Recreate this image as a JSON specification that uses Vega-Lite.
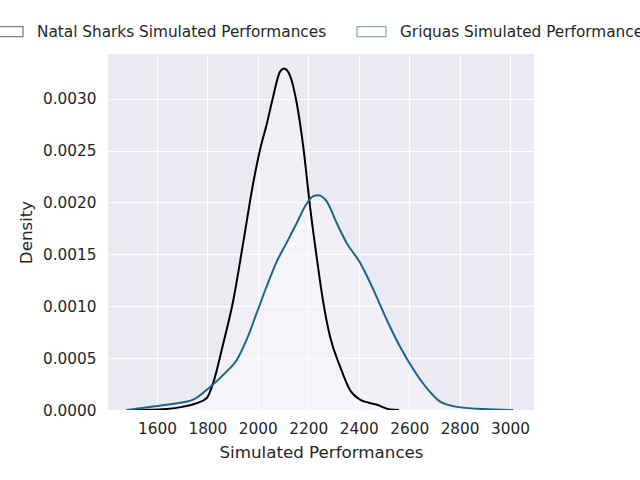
{
  "$schema": "https://vega.github.io/schema/vega-lite/v6.json",
  "width": 426,
  "height": 356,
  "autosize": {"type": "none"},
  "padding": {"left": 108, "top": 54, "right": 106, "bottom": 70},
  "background": "white",
  "config": {
    "view": {"fill": "#EAEAF2", "stroke": null},
    "font": "DejaVu Sans",
    "axis": {
      "gridColor": "white",
      "gridWidth": 1.2,
      "domain": false,
      "ticks": false,
      "labelColor": "#262626",
      "titleColor": "#262626",
      "labelFontSize": 15.3,
      "titleFontSize": 16.7,
      "titleFontWeight": "normal",
      "labelFont": "DejaVu Sans",
      "titleFont": "DejaVu Sans"
    }
  },
  "data": {
    "values": [
      {"series": "Natal Sharks Simulated Performances", "x": 1480, "y": 0},
      {"series": "Natal Sharks Simulated Performances", "x": 1560, "y": 0.000002},
      {"series": "Natal Sharks Simulated Performances", "x": 1638, "y": 0.00001},
      {"series": "Natal Sharks Simulated Performances", "x": 1700, "y": 0.00003},
      {"series": "Natal Sharks Simulated Performances", "x": 1757, "y": 0.000065},
      {"series": "Natal Sharks Simulated Performances", "x": 1797, "y": 0.000113},
      {"series": "Natal Sharks Simulated Performances", "x": 1823, "y": 0.00026},
      {"series": "Natal Sharks Simulated Performances", "x": 1863, "y": 0.00064},
      {"series": "Natal Sharks Simulated Performances", "x": 1903, "y": 0.00106},
      {"series": "Natal Sharks Simulated Performances", "x": 1942, "y": 0.00161},
      {"series": "Natal Sharks Simulated Performances", "x": 1982, "y": 0.00219},
      {"series": "Natal Sharks Simulated Performances", "x": 2009, "y": 0.00251},
      {"series": "Natal Sharks Simulated Performances", "x": 2035, "y": 0.00275},
      {"series": "Natal Sharks Simulated Performances", "x": 2061, "y": 0.00302},
      {"series": "Natal Sharks Simulated Performances", "x": 2088, "y": 0.00326},
      {"series": "Natal Sharks Simulated Performances", "x": 2104, "y": 0.00329},
      {"series": "Natal Sharks Simulated Performances", "x": 2128, "y": 0.00322},
      {"series": "Natal Sharks Simulated Performances", "x": 2154, "y": 0.00296},
      {"series": "Natal Sharks Simulated Performances", "x": 2180, "y": 0.00254},
      {"series": "Natal Sharks Simulated Performances", "x": 2207, "y": 0.00196},
      {"series": "Natal Sharks Simulated Performances", "x": 2233, "y": 0.00148},
      {"series": "Natal Sharks Simulated Performances", "x": 2260, "y": 0.00103},
      {"series": "Natal Sharks Simulated Performances", "x": 2286, "y": 0.00071},
      {"series": "Natal Sharks Simulated Performances", "x": 2326, "y": 0.00042},
      {"series": "Natal Sharks Simulated Performances", "x": 2366, "y": 0.00019},
      {"series": "Natal Sharks Simulated Performances", "x": 2405, "y": 0.0001},
      {"series": "Natal Sharks Simulated Performances", "x": 2440, "y": 0.00007},
      {"series": "Natal Sharks Simulated Performances", "x": 2472, "y": 0.00005},
      {"series": "Natal Sharks Simulated Performances", "x": 2524, "y": 0.000005},
      {"series": "Natal Sharks Simulated Performances", "x": 2560, "y": 0},
      {"series": "Griquas Simulated Performances", "x": 1480, "y": 0},
      {"series": "Griquas Simulated Performances", "x": 1572, "y": 0.00003},
      {"series": "Griquas Simulated Performances", "x": 1665, "y": 0.00006},
      {"series": "Griquas Simulated Performances", "x": 1744, "y": 0.0001},
      {"series": "Griquas Simulated Performances", "x": 1810, "y": 0.00022},
      {"series": "Griquas Simulated Performances", "x": 1876, "y": 0.00037},
      {"series": "Griquas Simulated Performances", "x": 1916, "y": 0.00048},
      {"series": "Griquas Simulated Performances", "x": 1956, "y": 0.00068},
      {"series": "Griquas Simulated Performances", "x": 1995, "y": 0.00093},
      {"series": "Griquas Simulated Performances", "x": 2035, "y": 0.00119},
      {"series": "Griquas Simulated Performances", "x": 2075, "y": 0.00143},
      {"series": "Griquas Simulated Performances", "x": 2114, "y": 0.00161},
      {"series": "Griquas Simulated Performances", "x": 2154, "y": 0.0018},
      {"series": "Griquas Simulated Performances", "x": 2194, "y": 0.00199},
      {"series": "Griquas Simulated Performances", "x": 2220, "y": 0.00206},
      {"series": "Griquas Simulated Performances", "x": 2240, "y": 0.00207},
      {"series": "Griquas Simulated Performances", "x": 2273, "y": 0.00201},
      {"series": "Griquas Simulated Performances", "x": 2313, "y": 0.0018},
      {"series": "Griquas Simulated Performances", "x": 2352, "y": 0.00161},
      {"series": "Griquas Simulated Performances", "x": 2405, "y": 0.00142},
      {"series": "Griquas Simulated Performances", "x": 2458, "y": 0.00116},
      {"series": "Griquas Simulated Performances", "x": 2511, "y": 0.00087},
      {"series": "Griquas Simulated Performances", "x": 2564, "y": 0.00061},
      {"series": "Griquas Simulated Performances", "x": 2617, "y": 0.00039},
      {"series": "Griquas Simulated Performances", "x": 2670, "y": 0.00021},
      {"series": "Griquas Simulated Performances", "x": 2723, "y": 0.00008},
      {"series": "Griquas Simulated Performances", "x": 2789, "y": 0.00003},
      {"series": "Griquas Simulated Performances", "x": 2894, "y": 0.00001},
      {"series": "Griquas Simulated Performances", "x": 3012, "y": 0}
    ]
  },
  "encoding": {
    "x": {
      "field": "x",
      "type": "quantitative",
      "scale": {"domain": [1406, 3095], "nice": false, "zero": false},
      "axis": {"values": [1600, 1800, 2000, 2200, 2400, 2600, 2800, 3000], "format": "d", "labelPadding": 11, "title": "Simulated Performances", "titlePadding": 8}
    },
    "y": {
      "field": "y",
      "type": "quantitative",
      "stack": null,
      "scale": {"domain": [0, 0.00343], "nice": false},
      "axis": {"values": [0, 0.0005, 0.001, 0.0015, 0.002, 0.0025, 0.003], "format": ".4f", "labelPadding": 12, "title": "Density", "titlePadding": 7}
    }
  },
  "layer": [
    {
      "mark": {"type": "area", "fill": "white", "opacity": 0.3, "interpolate": "monotone", "clip": true},
      "encoding": {"detail": {"field": "series"}}
    },
    {
      "mark": {"type": "line", "strokeWidth": 2, "interpolate": "monotone", "clip": true},
      "encoding": {
        "color": {
          "field": "series",
          "type": "nominal",
          "scale": {
            "domain": ["Natal Sharks Simulated Performances", "Griquas Simulated Performances"],
            "range": ["#000000", "#1f6487"]
          },
          "legend": {
            "title": null,
            "orient": "none",
            "direction": "horizontal",
            "legendX": -115,
            "legendY": -38,
            "padding": 0,
            "symbolType": "M-1,-0.35H1V0.35H-1Z",
            "symbolSize": 841,
            "symbolStrokeWidth": 1.3,
            "symbolOpacity": 0.5,
            "symbolFillColor": "white",
            "labelFontSize": 15.3,
            "labelColor": "#262626",
            "labelFont": "DejaVu Sans",
            "labelOffset": 13,
            "labelLimit": 400,
            "columnPadding": 27
          }
        }
      }
    }
  ]
}
